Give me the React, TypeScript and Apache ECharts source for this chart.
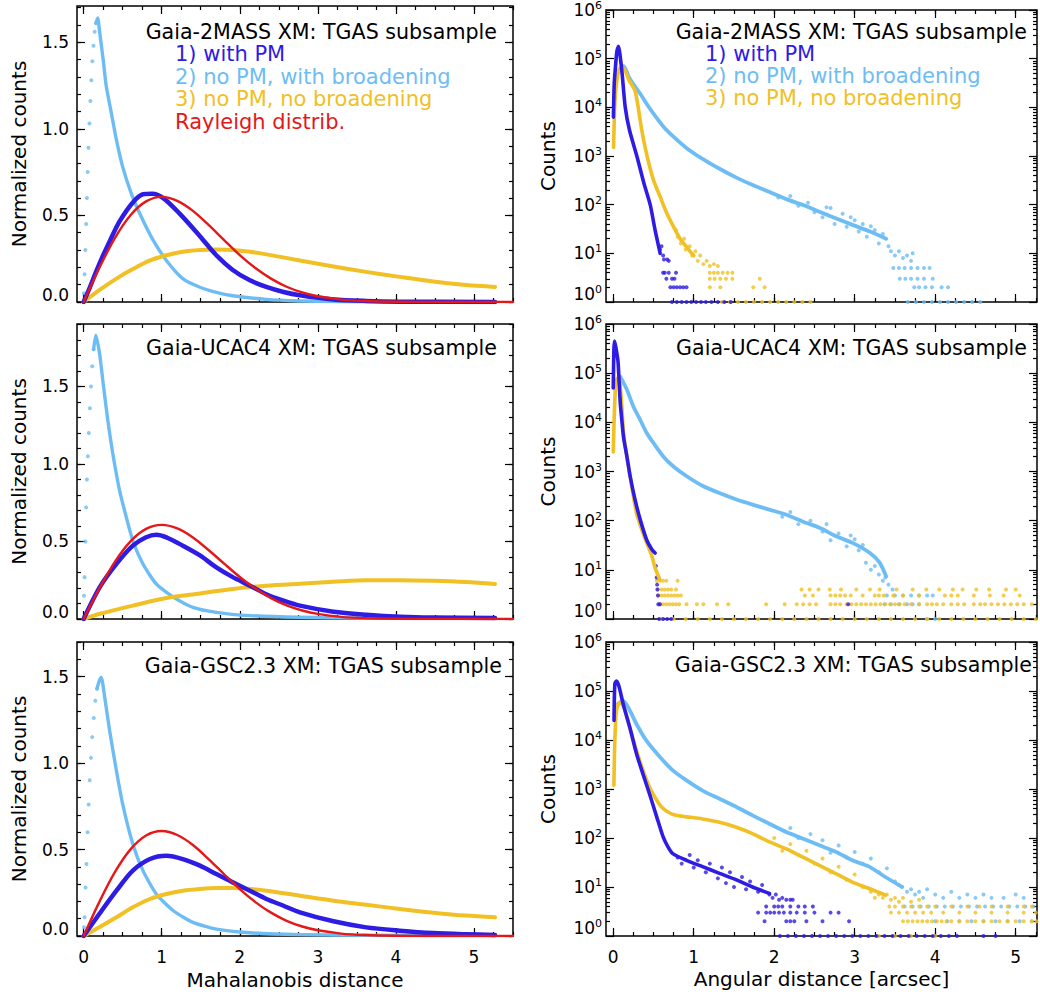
import React, { useEffect, useRef } from "react";
import * as echarts from "echarts";

const FONT = "DejaVu Sans";
const C_PM = "#2e1ce4";
const C_BROAD = "#6dbdf4";
const C_NOBR = "#f0c024";
const C_RAY = "#e41818";

// ---------- tick values ----------
const X_MAJOR = [0, 1, 2, 3, 4, 5];
const X_MINOR = [0, 0.25, 0.5, 0.75, 1, 1.25, 1.5, 1.75, 2, 2.25, 2.5, 2.75, 3, 3.25, 3.5, 3.75, 4, 4.25, 4.5, 4.75, 5, 5.25, 5.5];
const LIN_MAJOR = [0, 0.5, 1, 1.5];
const LIN_MINOR = [0, 0.1, 0.2, 0.3, 0.4, 0.5, 0.6, 0.7, 0.8, 0.9, 1, 1.1, 1.2, 1.3, 1.4, 1.5, 1.6, 1.7, 1.8, 1.9];
const LOG_MAJOR = [1, 10, 100, 1000, 10000, 100000, 1000000];
const LOG_MINOR_MANT = [2, 3, 4, 5, 6, 7, 8, 9];
const LOG_MINOR: number[] = [];
[1, 10, 100, 1000, 10000, 100000].forEach((d) => LOG_MINOR_MANT.forEach((m) => LOG_MINOR.push(m * d)));

// ---------- left column: normalized counts vs Mahalanobis distance ----------
const rayleigh = [[0, 0], [0.2, 0.196], [0.4, 0.369], [0.6, 0.501], [0.8, 0.581], [1.0, 0.607], [1.2, 0.584], [1.4, 0.526], [1.6, 0.445], [1.8, 0.357], [2.0, 0.271], [2.2, 0.196], [2.4, 0.135], [2.6, 0.088], [2.8, 0.055], [3.0, 0.033], [3.3, 0.014], [3.6, 0.0055], [4.0, 0.0013], [4.5, 0.0002], [5.5, 0]];

// Gaia-2MASS
const tlBroadRise = [[0.004, 0.05], [0.012, 0.16], [0.022, 0.3], [0.032, 0.45], [0.042, 0.6], [0.052, 0.75], [0.062, 0.89], [0.074, 1.03], [0.086, 1.16], [0.098, 1.28], [0.112, 1.39], [0.126, 1.48], [0.142, 1.56], [0.158, 1.61]];
const tlBroad = [[0.158, 1.61], [0.18, 1.64], [0.205, 1.56], [0.25, 1.4], [0.29, 1.245], [0.355, 1.09], [0.42, 0.936], [0.5, 0.78], [0.61, 0.627], [0.72, 0.51], [0.89, 0.357], [1.06, 0.24], [1.27, 0.135], [1.49, 0.085], [1.7, 0.055], [1.91, 0.036], [2.34, 0.015], [2.77, 0.006], [3.2, 0.003], [4.0, 0.001], [5.27, 0]];
const tlPm = [[0, 0], [0.08, 0.085], [0.16, 0.175], [0.25, 0.27], [0.333, 0.35], [0.46, 0.465], [0.63, 0.575], [0.76, 0.622], [0.88, 0.625], [1.02, 0.6], [1.23, 0.51], [1.49, 0.38], [1.7, 0.27], [1.91, 0.185], [2.13, 0.125], [2.34, 0.087], [2.56, 0.058], [2.77, 0.039], [3.2, 0.015], [3.62, 0.006], [4.05, 0.002], [5.27, 0]];
const tlNoBr = [[0, 0], [0.2, 0.068], [0.42, 0.135], [0.63, 0.19], [0.85, 0.24], [1.06, 0.27], [1.27, 0.29], [1.49, 0.3], [1.7, 0.303], [1.91, 0.3], [2.13, 0.29], [2.34, 0.275], [2.77, 0.24], [3.2, 0.205], [3.62, 0.174], [4.05, 0.145], [4.48, 0.118], [4.9, 0.098], [5.27, 0.087]];

// Gaia-UCAC4
const mlBroadRise = [[0.005, 0.15], [0.012, 0.27], [0.022, 0.5], [0.032, 0.72], [0.042, 0.9], [0.054, 1.05], [0.066, 1.2], [0.08, 1.36], [0.094, 1.5], [0.11, 1.63], [0.128, 1.74]];
const mlBroad = [[0.128, 1.74], [0.155, 1.83], [0.205, 1.71], [0.25, 1.52], [0.31, 1.28], [0.376, 1.06], [0.46, 0.83], [0.547, 0.656], [0.63, 0.505], [0.76, 0.355], [0.93, 0.226], [1.15, 0.14], [1.4, 0.075], [1.7, 0.043], [2.13, 0.022], [2.77, 0.011], [3.6, 0.006], [5.27, 0.005]];
const mlPm = [[0, 0], [0.205, 0.204], [0.42, 0.355], [0.63, 0.473], [0.8, 0.527], [0.93, 0.544], [1.06, 0.527], [1.27, 0.473], [1.49, 0.41], [1.7, 0.333], [1.91, 0.27], [2.13, 0.215], [2.34, 0.16], [2.56, 0.118], [2.77, 0.086], [3.2, 0.047], [3.62, 0.028], [4.05, 0.015], [4.48, 0.009], [5.27, 0.006]];
const mlNoBr = [[0, 0], [0.2, 0.032], [0.63, 0.086], [1.06, 0.135], [1.49, 0.165], [1.91, 0.194], [2.34, 0.215], [2.77, 0.228], [3.2, 0.24], [3.62, 0.25], [4.05, 0.25], [4.48, 0.246], [4.9, 0.238], [5.27, 0.226]];

// Gaia-GSC2.3
const blBroadRise = [[0.005, 0.05], [0.012, 0.108], [0.024, 0.28], [0.036, 0.416], [0.05, 0.6], [0.064, 0.76], [0.078, 0.9], [0.094, 1.03], [0.11, 1.15], [0.13, 1.26], [0.15, 1.36], [0.172, 1.43]];
const blBroad = [[0.172, 1.43], [0.2, 1.475], [0.226, 1.495], [0.27, 1.38], [0.333, 1.187], [0.42, 0.956], [0.5, 0.763], [0.63, 0.532], [0.76, 0.378], [0.93, 0.243], [1.15, 0.146], [1.4, 0.079], [1.7, 0.04], [2.13, 0.019], [2.77, 0.008], [3.62, 0.004], [5.27, 0.002]];
const blPm = [[0, 0], [0.2, 0.127], [0.42, 0.262], [0.63, 0.378], [0.85, 0.445], [1.06, 0.464], [1.27, 0.445], [1.49, 0.407], [1.7, 0.358], [1.91, 0.31], [2.13, 0.262], [2.34, 0.214], [2.56, 0.175], [2.77, 0.137], [3.2, 0.085], [3.62, 0.05], [4.05, 0.031], [4.48, 0.017], [4.9, 0.01], [5.27, 0.006]];
const blNoBr = [[0, 0], [0.2, 0.05], [0.42, 0.108], [0.63, 0.166], [0.85, 0.214], [1.06, 0.243], [1.27, 0.262], [1.49, 0.272], [1.7, 0.277], [1.91, 0.277], [2.13, 0.272], [2.34, 0.262], [2.77, 0.233], [3.2, 0.204], [3.62, 0.181], [4.05, 0.156], [4.48, 0.135], [4.9, 0.118], [5.27, 0.108]];

// ---------- right column: counts vs angular distance ----------
const pts = (xs: number[], c: number) => xs.map((x) => [x, c]);

// Gaia-2MASS
const trPm = [[0.002, 6300], [0.012, 30000], [0.025, 60000], [0.045, 140000], [0.066, 180000], [0.087, 110000], [0.11, 50000], [0.149, 10000], [0.2, 3500], [0.293, 1000], [0.38, 280], [0.459, 100], [0.52, 30], [0.583, 10]];
const trNoBr = [[0.004, 1500], [0.02, 12000], [0.04, 30000], [0.06, 50000], [0.09, 65000], [0.12, 65000], [0.2, 35000], [0.27, 22000], [0.31, 10000], [0.36, 3000], [0.42, 1000], [0.5, 320], [0.58, 150], [0.66, 70], [0.75, 35], [0.83, 20], [0.92, 13], [1.0, 9]];
const trBroad = [[0.09, 60000], [0.128, 70000], [0.2, 40000], [0.25, 30000], [0.335, 19000], [0.417, 11700], [0.5, 7400], [0.624, 4000], [0.748, 2500], [0.913, 1450], [1.12, 850], [1.326, 540], [1.53, 360], [1.74, 250], [1.95, 180], [2.15, 130], [2.36, 98], [2.57, 71], [2.77, 52], [2.98, 38], [3.19, 28], [3.39, 20]];
const trPmTail = [[0.58, 12], [0.6, 14], [0.62, 9], [0.63, 7.5], [0.67, 7.5], [0.69, 7], ...pts([0.62, 0.64, 0.69, 0.78], 4), ...pts([0.66, 0.73, 0.76], 3), ...pts([0.71, 0.75, 0.79, 0.83, 0.87, 0.91], 2), ...pts([0.73, 0.79, 0.85, 0.91, 0.97, 1.03, 1.09, 1.15, 1.22, 1.3, 1.38, 1.46], 1)];
const trNoBrTail = [[0.78, 30], [0.8, 22], [0.84, 16], [0.88, 20], [0.9, 12], [0.95, 14], [0.98, 9], [1.02, 11], [1.05, 7], [1.08, 9], [1.12, 6], [1.16, 7], [1.2, 5.5], [1.25, 6], [1.3, 5.5], ...pts([1.2, 1.25, 1.3, 1.36, 1.42, 1.48], 4), ...pts([1.2, 1.26, 1.33, 1.4, 1.48, 1.82], 3), ...pts([1.2, 1.33, 1.74, 1.88], 2), ...pts([1.35, 1.45, 1.55, 1.65, 1.75, 1.85, 1.95, 2.05, 2.15, 2.25, 2.35, 2.45], 1)];
const trBroadTail = [[2.05, 140], [2.2, 150], [2.3, 95], [2.42, 110], [2.5, 70], [2.6, 55], [2.65, 88], [2.7, 85], [2.75, 40], [2.85, 65], [2.9, 35], [2.95, 55], [3.0, 48], [3.05, 28], [3.1, 40], [3.15, 22], [3.2, 36], [3.25, 30], [3.3, 16], [3.35, 25], [3.42, 14], [3.45, 11], [3.5, 9], [3.55, 11], [3.6, 8], [3.65, 9], [3.7, 7], [3.72, 10], ...pts([3.48, 3.55, 3.62, 3.7, 3.78, 3.86, 3.93], 5), ...pts([3.56, 3.63, 3.7, 3.78, 3.86, 3.97], 3), ...pts([3.74, 3.8, 3.88, 3.96, 4.08, 4.16], 2), ...pts([3.66, 3.76, 3.86, 3.96, 4.06, 4.16, 4.26, 4.36, 4.46, 4.56], 1)];

// Gaia-UCAC4
const mrPm = [[0.0, 50000], [0.008, 300000], [0.015, 450000], [0.03, 350000], [0.058, 180000], [0.07, 85000], [0.087, 25000], [0.107, 11000], [0.128, 5000], [0.17, 2000], [0.21, 800], [0.27, 270], [0.335, 105], [0.417, 40], [0.48, 26], [0.52, 22]];
const mrNoBr = [[0.0, 2500], [0.016, 20000], [0.033, 63000], [0.054, 80000], [0.078, 72000], [0.107, 21000], [0.128, 6000], [0.17, 2000], [0.23, 500], [0.29, 140], [0.355, 66], [0.417, 35], [0.48, 19], [0.52, 11], [0.58, 6.3]];
const mrBroad = [[0.087, 85000], [0.17, 46000], [0.25, 21000], [0.335, 11200], [0.417, 6000], [0.5, 3800], [0.624, 2000], [0.748, 1260], [0.913, 800], [1.12, 500], [1.326, 360], [1.53, 270], [1.74, 210], [1.95, 166], [2.15, 132], [2.36, 95], [2.57, 71], [2.77, 48], [2.98, 35], [3.19, 22], [3.31, 14], [3.39, 7.4]];
const mrPmTail = [[0.53, 12], [0.54, 7], [0.545, 5], [0.55, 4], [0.555, 3], ...pts([0.56, 0.58, 2.92], 2), ...pts([0.57, 0.62, 0.67, 0.72], 1)];
const mrNoBrTail = [...pts([0.54, 0.58, 0.62, 0.66, 0.8], 6), ...pts([0.55, 0.6, 0.64, 0.68, 0.72, 0.78, 2.34, 2.44, 2.55, 2.69, 2.83, 3.02, 3.19, 3.31, 3.52, 3.72, 3.89, 4.05, 4.22, 4.34, 4.51, 4.67, 4.88, 5.0], 4), ...pts([0.56, 0.6, 0.64, 0.68, 0.72, 0.76, 0.8, 0.84, 2.38, 2.48, 2.7, 2.76, 2.82, 2.88, 2.95, 3.1, 3.25, 3.3, 3.36, 3.48, 3.6, 3.8, 4.12, 4.2, 4.28, 4.48, 4.68, 4.85, 5.05], 3), ...pts([0.58, 0.62, 0.66, 0.7, 0.74, 0.78, 0.82, 0.91, 1.04, 1.12, 1.29, 1.43, 1.9, 2.13, 2.28, 2.36, 2.44, 2.52, 2.7, 2.76, 2.82, 2.9, 2.96, 3.02, 3.08, 3.14, 3.2, 3.26, 3.32, 3.38, 3.44, 3.5, 3.56, 3.62, 3.7, 3.8, 3.9, 3.96, 4.02, 4.1, 4.2, 4.28, 4.36, 4.48, 4.56, 4.62, 4.7, 4.78, 4.86, 4.94, 5.02, 5.1, 5.2], 2), ...pts([0.6, 0.75, 0.9, 1.05, 1.2, 1.35, 1.5, 1.65, 1.8, 1.95, 2.1, 2.25, 2.4, 2.55, 2.7, 2.85, 3.0, 3.15, 3.3, 3.45, 3.6, 3.75, 3.9, 4.05, 4.2, 4.35, 4.5, 4.65, 4.8, 4.95, 5.1, 5.25], 1)];
const mrBroadTail = [[2.1, 120], [2.2, 150], [2.3, 85], [2.45, 100], [2.6, 60], [2.65, 85], [2.7, 40], [2.8, 55], [2.9, 30], [2.95, 50], [3.0, 42], [3.05, 25], [3.1, 32], [3.14, 14], [3.2, 10], [3.25, 12], [3.3, 8], [3.35, 6], [3.38, 7], [3.42, 5], [3.47, 4], ...pts([3.4, 3.5, 3.6, 3.7, 3.8, 3.9, 3.97], 3), ...pts([3.37, 3.45, 3.55, 3.65, 3.72, 3.8], 2), ...pts([3.9, 4.0], 1)];

// Gaia-GSC2.3
const brPm = [[0.01, 25000], [0.02, 140000], [0.04, 160000], [0.07, 126000], [0.124, 54000], [0.206, 18000], [0.29, 5200], [0.37, 2000], [0.45, 800], [0.54, 270], [0.62, 105], [0.68, 66], [0.74, 48], [0.91, 35], [1.11, 26], [1.32, 19], [1.53, 14], [1.73, 10], [1.94, 7.4]];
const brNoBr = [[0.008, 1200], [0.02, 10000], [0.04, 40000], [0.08, 59000], [0.124, 50000], [0.206, 18000], [0.29, 6000], [0.37, 2400], [0.45, 1100], [0.54, 590], [0.6, 430], [0.68, 340], [0.78, 290], [0.91, 270], [1.11, 245], [1.32, 210], [1.53, 166], [1.73, 123], [1.94, 83], [2.15, 60], [2.35, 41], [2.56, 27.5], [2.77, 18.6], [2.97, 12.6], [3.18, 9.3], [3.38, 6.8]];
const brBroad = [[0.06, 55000], [0.124, 63000], [0.206, 40000], [0.29, 21000], [0.41, 9800], [0.58, 4500], [0.74, 2400], [0.91, 1500], [1.11, 930], [1.32, 630], [1.53, 430], [1.73, 290], [1.94, 195], [2.15, 132], [2.35, 98], [2.56, 71], [2.77, 52], [2.97, 35], [3.18, 26], [3.38, 16], [3.59, 10]];
const brPmTail = [[0.8, 40], [0.85, 30], [0.95, 45], [1.0, 25], [1.05, 35], [1.15, 20], [1.2, 30], [1.3, 15], [1.35, 25], [1.4, 12], [1.45, 20], [1.5, 10], [1.6, 16], [1.65, 9], [1.7, 13], [1.8, 8], [1.85, 11], [1.94, 7], [1.98, 6], [2.02, 7], [2.06, 5.5], [2.1, 6], [2.15, 5.5], [2.2, 5.5], [2.23, 5.5], ...pts([1.9, 2.0, 2.05, 2.1, 2.2, 2.3, 2.38, 2.48], 4), ...pts([1.8, 1.9, 1.95, 2.0, 2.06, 2.12, 2.2, 2.28, 2.38, 2.5, 2.7, 2.8], 3), ...pts([1.88, 2.15, 2.2, 2.25, 2.4, 2.6, 2.93], 2), ...pts([2.07, 2.17, 2.27, 2.37, 2.47, 2.57, 2.67, 2.77, 2.87, 2.97, 3.07, 3.17, 3.27, 3.37, 3.47, 3.57, 3.67, 3.77, 3.87, 3.97, 4.07, 4.17, 4.27, 4.6, 4.75], 1)];
const brNoBrTail = [[2.0, 100], [2.1, 55], [2.2, 75], [2.3, 45], [2.4, 55], [2.5, 30], [2.6, 38], [2.7, 20], [2.8, 26], [2.9, 14], [3.0, 18], [3.1, 10], [3.2, 8], [3.25, 6], [3.3, 7], [3.35, 6], [3.4, 7], [3.45, 5.5], [3.5, 6], [3.55, 5], [3.6, 6], [3.7, 5], [3.8, 5.5], ...pts([3.43, 3.5, 3.6, 3.7, 3.8, 3.9, 4.0, 4.2, 4.4, 4.55, 4.7, 4.9, 5.1, 5.2], 4), ...pts([3.45, 3.55, 3.65, 3.75, 3.85, 3.95, 4.1, 4.3, 4.5, 4.7, 4.9, 5.1, 5.25], 3), ...pts([3.6, 3.66, 3.72, 3.78, 3.84, 3.9, 3.96, 4.02, 4.08, 4.14, 4.2, 4.3, 4.4, 4.5, 4.6, 4.7, 4.8, 4.9, 5.0, 5.1, 5.2, 5.26], 2), ...pts([3.3, 3.5, 3.7, 4.0], 1)];
const brBroadTail = [[2.2, 160], [2.3, 100], [2.45, 120], [2.6, 90], [2.7, 50], [2.8, 70], [2.9, 40], [3.0, 52], [3.1, 30], [3.2, 38], [3.3, 20], [3.4, 24], [3.5, 13], [3.65, 8], [3.7, 9], [3.75, 7], [3.8, 8], [3.85, 6], [3.9, 9], [4.0, 7], [4.1, 6], [4.2, 8], [4.3, 6], [4.4, 7], [4.5, 6], [4.6, 7], [4.7, 6], [4.85, 6], [5.0, 7], [5.1, 6], ...pts([3.62, 3.72, 3.82, 3.92, 4.02, 4.12, 4.22, 4.32, 4.42, 4.52, 4.62, 4.72, 4.82, 4.92, 5.02, 5.12, 5.22], 4), ...pts([4.0, 4.15, 4.3, 4.45, 4.6, 4.75, 4.9, 5.05, 5.2], 2)];

// ---------- text ----------
const TITLES = ["Gaia-2MASS XM: TGAS subsample", "Gaia-UCAC4 XM: TGAS subsample", "Gaia-GSC2.3 XM: TGAS subsample"];
const LEGEND = ["1) with PM", "2) no PM, with broadening", "3) no PM, no broadening", "Rayleigh distrib."];

type Panel = { left: number; top: number; width: number; height: number; xMin: number; xMax: number; log: boolean; yMax: number; bottom: boolean; xName: string; xNameGap: number; yName: string; yNameGap: number };

const ROWS = [{ top: 6, height: 296 }, { top: 324, height: 295 }, { top: 642, height: 294 }];
const LEFT_Y_MAX = [1.709, 1.903, 1.7];

const TICK_STYLE = { color: "#000", width: 1.2 };

function buildAxes(p: Panel, g: number) {
  const xs: any[] = [];
  const ys: any[] = [];
  const xBase = {
    type: "value", gridIndex: g, min: p.xMin, max: p.xMax,
    axisLine: { show: false, onZero: false }, splitLine: { show: false },
  };
  const mkX = (pos: string, ticks: number[], len: number, labels: boolean) => ({
    ...xBase, position: pos,
    axisTick: { show: true, inside: true, length: len, customValues: ticks, lineStyle: TICK_STYLE },
    axisLabel: labels
      ? { show: true, customValues: X_MAJOR, formatter: (v: number) => String(Math.round(v)), fontSize: 17, fontFamily: FONT, color: "#000", margin: 12 }
      : { show: false },
    name: labels ? p.xName : "", nameLocation: "middle", nameGap: p.xNameGap,
    nameTextStyle: { fontSize: 20, fontFamily: FONT, color: "#000" },
  });
  xs.push(mkX("bottom", X_MAJOR, 8, p.bottom), mkX("bottom", X_MINOR, 4, false), mkX("top", X_MAJOR, 8, false), mkX("top", X_MINOR, 4, false));

  const yMin = p.log ? 1 : 0;
  const major = p.log ? LOG_MAJOR : LIN_MAJOR;
  const minor = p.log ? LOG_MINOR : LIN_MINOR;
  const yBase: any = {
    type: p.log ? "log" : "value", logBase: 10, gridIndex: g, min: yMin, max: p.yMax,
    axisLine: { show: false, onZero: false }, splitLine: { show: false },
  };
  const labelCfg = p.log
    ? {
        show: true, customValues: LOG_MAJOR, margin: 4, color: "#000",
        formatter: (v: number) => {
          const e = Math.round(Math.log10(v));
          const s = `{b|10}{s|${e}}`;
          return e === 0 ? s + "\n{sp| }" : s;
        },
        rich: {
          b: { fontSize: 17, fontFamily: FONT, color: "#000", lineHeight: 20 },
          s: { fontSize: 11, fontFamily: FONT, color: "#000", lineHeight: 11, verticalAlign: "top" },
          sp: { fontSize: 1, lineHeight: 16 },
        },
      }
    : {
        show: true, customValues: LIN_MAJOR, margin: 8, color: "#000",
        formatter: (v: number) => (Math.abs(v) < 1e-9 ? "{a|0.0}\n{sp| }" : `{a|${v.toFixed(1)}}`),
        rich: {
          a: { fontSize: 17, fontFamily: FONT, color: "#000", lineHeight: 20 },
          sp: { fontSize: 1, lineHeight: 14 },
        },
      };
  const mkY = (pos: string, ticks: number[], len: number, labels: boolean) => ({
    ...yBase, position: pos,
    axisTick: { show: true, inside: true, length: len, customValues: ticks, lineStyle: TICK_STYLE },
    axisLabel: labels ? labelCfg : { show: false },
    name: labels ? p.yName : "", nameLocation: "middle", nameGap: p.yNameGap,
    nameTextStyle: { fontSize: 20, fontFamily: FONT, color: "#000" },
  });
  ys.push(mkY("left", major, 8, true), mkY("left", minor, 4, false), mkY("right", major, 8, false), mkY("right", minor, 4, false));
  return { xs, ys };
}

function lineS(g: number, data: number[][], color: string, width: number, smooth = 0.3) {
  return {
    type: "line", xAxisIndex: 4 * g, yAxisIndex: 4 * g, data, showSymbol: false, smooth,
    lineStyle: { color, width, cap: "round", join: "round" }, itemStyle: { color }, silent: true,
  };
}
function dotS(g: number, data: number[][], color: string, size = 4) {
  return {
    type: "scatter", xAxisIndex: 4 * g, yAxisIndex: 4 * g, data, symbol: "circle", symbolSize: size,
    itemStyle: { color }, silent: true,
  };
}

export default function App() {
  const ref = useRef<HTMLDivElement>(null);
  useEffect(() => {
    if (!ref.current) return;
    const chart = echarts.init(ref.current, null, { renderer: "svg" });

    const panels: Panel[] = [];
    ROWS.forEach((r, i) => {
      const bottom = i === 2;
      panels.push({ left: 77, top: r.top, width: 436, height: r.height, xMin: -0.085, xMax: 5.5, log: false, yMax: LEFT_Y_MAX[i], bottom, xName: "Mahalanobis distance", xNameGap: 34, yName: "Normalized counts", yNameGap: 48 });
      panels.push({ left: 606, top: r.top, width: 431, height: r.height, xMin: -0.09, xMax: 5.265, log: true, yMax: 1000000, bottom, xName: "Angular distance [arcsec]", xNameGap: 33, yName: "Counts", yNameGap: 48 });
    });

    const grids: any[] = [];
    const xAxis: any[] = [];
    const yAxis: any[] = [];
    panels.forEach((p, g) => {
      grids.push({ left: p.left, top: p.top, width: p.width, height: p.height, show: true, borderColor: "#000", borderWidth: 1.5, backgroundColor: "transparent", containLabel: false });
      const { xs, ys } = buildAxes(p, g);
      xAxis.push(...xs);
      yAxis.push(...ys);
    });

    const series: any[] = [];
    const leftSets = [
      [tlBroadRise, tlBroad, tlNoBr, tlPm],
      [mlBroadRise, mlBroad, mlNoBr, mlPm],
      [blBroadRise, blBroad, blNoBr, blPm],
    ];
    leftSets.forEach((s, i) => {
      const g = 2 * i;
      series.push(dotS(g, s[0], C_BROAD, 4));
      series.push(lineS(g, s[1], C_BROAD, 3.4, 0.2));
      series.push(lineS(g, s[2], C_NOBR, 4));
      series.push(lineS(g, s[3], C_PM, 4.5));
      series.push(lineS(g, rayleigh, C_RAY, 2.4));
    });
    const rightSets = [
      [trBroad, trBroadTail, trNoBr, trNoBrTail, trPm, trPmTail],
      [mrBroad, mrBroadTail, mrNoBr, mrNoBrTail, mrPm, mrPmTail],
      [brBroad, brBroadTail, brNoBr, brNoBrTail, brPm, brPmTail],
    ];
    rightSets.forEach((s, i) => {
      const g = 2 * i + 1;
      series.push(lineS(g, s[0], C_BROAD, 3.8, 0.25));
      series.push(dotS(g, s[1], C_BROAD));
      series.push(lineS(g, s[2], C_NOBR, 3.6, 0.25));
      series.push(dotS(g, s[3], C_NOBR));
      series.push(lineS(g, s[4], C_PM, 3.6, 0.25));
      series.push(dotS(g, s[5], C_PM));
    });

    const txt = (x: number, y: number, text: string, fill: string, align: string, size: number) => ({
      type: "text", x, y, silent: true, z: 100,
      style: { text, fill, fontSize: size, fontFamily: FONT, align, verticalAlign: "middle" },
    });
    const T = 20.6;
    const L = 21;
    const graphic: any[] = [
      txt(497, 32, TITLES[0], "#000", "right", T),
      txt(1027, 32, TITLES[0], "#000", "right", T),
      txt(497, 348, TITLES[1], "#000", "right", T),
      txt(1027, 348, TITLES[1], "#000", "right", T),
      txt(502, 666, TITLES[2], "#000", "right", T),
      txt(1032, 665, TITLES[2], "#000", "right", T),
      txt(175, 54, LEGEND[0], C_PM, "left", L),
      txt(175, 77, LEGEND[1], C_BROAD, "left", L),
      txt(175, 99, LEGEND[2], C_NOBR, "left", L),
      txt(175, 122, LEGEND[3], C_RAY, "left", L),
      txt(705, 54, LEGEND[0], C_PM, "left", L),
      txt(705, 76, LEGEND[1], C_BROAD, "left", L),
      txt(705, 98, LEGEND[2], C_NOBR, "left", L),
    ];

    chart.setOption({
      animation: false,
      backgroundColor: "#fff",
      textStyle: { fontFamily: FONT },
      grid: grids,
      xAxis,
      yAxis,
      series,
      graphic,
    });
    return () => chart.dispose();
  }, []);
  return <div ref={ref} style={{ position: "absolute", left: 0, top: 0, width: 1040, height: 999 }} />;
}
